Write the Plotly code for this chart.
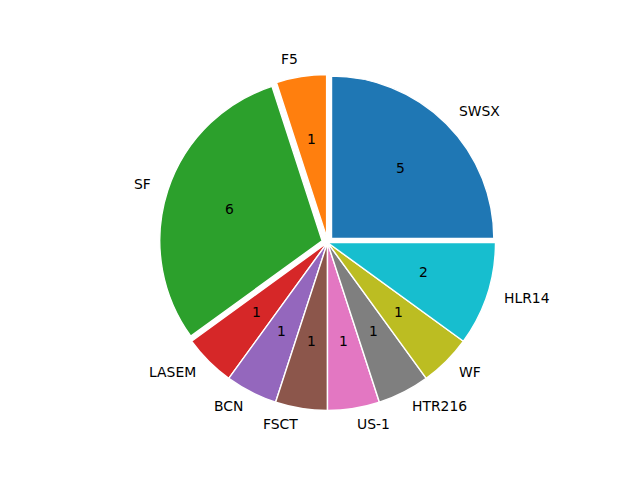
import math
import plotly.graph_objects as go

labels = ["SWSX", "F5", "SF", "LASEM", "BCN", "FSCT", "US-1", "HTR216", "WF", "HLR14"]
values = [5, 1, 6, 1, 1, 1, 1, 1, 1, 2]
explode = [0.035, 0.035, 0.035, 0, 0, 0, 0, 0, 0, 0]
colors = ["#1f77b4", "#ff7f0e", "#2ca02c", "#d62728", "#9467bd",
          "#8c564b", "#e377c2", "#7f7f7f", "#bcbd22", "#17becf"]

W, H = 640, 480
OFF = 8.0                          # page body margin in the browser
CX, CY, R = 327.5 - OFF, 242.5 - OFF, 168.0   # pie centre / outer radius in figure pixels
LW = 1.4
CLEAR = "rgba(0,0,0,0)"

domain = dict(x=[(CX - R) / W, (CX + R) / W],
              y=[1 - (CY + R) / H, 1 - (CY - R) / H])
is_ex = [e > 0 for e in explode]

fig = go.Figure()
# slices that stay in place
fig.add_trace(go.Pie(
    labels=labels, values=values, sort=False,
    direction="counterclockwise", rotation=0,
    marker=dict(colors=[CLEAR if x else c for c, x in zip(colors, is_ex)],
                line=dict(color=[CLEAR if x else "white" for x in is_ex],
                          width=[0 if x else LW for x in is_ex])),
    textinfo="none", hoverinfo="label+value", domain=domain,
))
# exploded slices
fig.add_trace(go.Pie(
    labels=labels, values=values, sort=False, pull=explode,
    direction="counterclockwise", rotation=0,
    marker=dict(colors=[c if x else CLEAR for c, x in zip(colors, is_ex)],
                line=dict(color=["white" if x else CLEAR for x in is_ex],
                          width=[LW if x else 0 for x in is_ex])),
    textinfo="none", hoverinfo="label+value", domain=domain,
))

font = dict(family="DejaVu Sans", size=13.9, color="black")
total = sum(values)
start = 0.0
annotations = []
for lab, v, ex in zip(labels, values, explode):
    span = v / total * 360.0
    mid = math.radians(start + span / 2)
    start += span
    c, s = math.cos(mid), math.sin(mid)
    rr = R / (1 + max(explode)) if ex > 0 else R
    shift = ex * rr
    # outer label
    d = shift + 1.1 * rr
    annotations.append(dict(
        x=(CX + d * c) / W, y=1 - (CY - d * s) / H, xref="paper", yref="paper",
        text=lab, showarrow=False, font=font, borderpad=0, yshift=1.5,
        xanchor="left" if c > 0 else "right", yanchor="middle"))
    # value label
    d = shift + 0.6 * rr
    annotations.append(dict(
        x=(CX + d * c) / W, y=1 - (CY - d * s) / H, xref="paper", yref="paper",
        text=str(v), showarrow=False, font=font, borderpad=0, yshift=1.5,
        xanchor="center", yanchor="middle"))

fig.update_layout(
    width=W, height=H, margin=dict(l=0, r=0, t=0, b=0),
    paper_bgcolor="white", plot_bgcolor="white",
    showlegend=False, annotations=annotations,
)
fig.write_html("out.html")
